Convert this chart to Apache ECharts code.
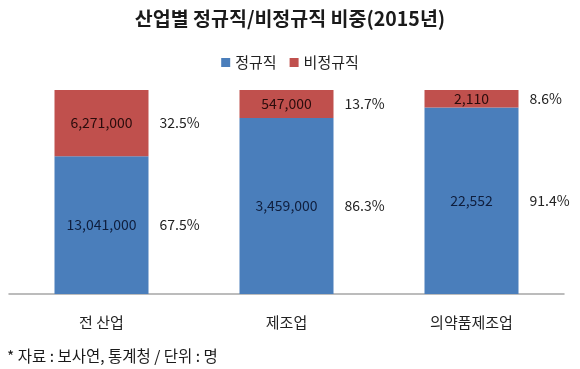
<!DOCTYPE html>
<html><head><meta charset="utf-8">
<script src="https://cdn.jsdelivr.net/npm/echarts@6/dist/echarts.min.js"></script>
<style>html,body{margin:0;padding:0;background:#fff}#c{width:580px;height:369px}</style>
</head><body><div id="c"></div>
<script>
const categories = ['전 산업', '제조업', '의약품제조업'];
const regularCount = ['13,041,000', '3,459,000', '22,552'];
const irregularCount = ['6,271,000', '547,000', '2,110'];
const regularPct = [67.5, 86.3, 91.4];
const irregularPct = [32.5, 13.7, 8.6];

const FONT = '"Noto Sans CJK KR", "Noto Sans", sans-serif';
const BW = 94;
const chart = echarts.init(document.getElementById('c'));
chart.setOption({
  animation: false,
  textStyle: { fontFamily: FONT },
  title: [
    { text: '산업별 정규직/비정규직 비중(2015년)', left: 'center', top: 4,
      textStyle: { fontFamily: FONT, fontSize: 19.5, fontWeight: 'bold', color: '#1a1a1a' } },
    { text: '* 자료 : 보사연, 통계청 / 단위 : 명', left: 2, top: 343,
      textStyle: { fontFamily: FONT, fontSize: 15.5, fontWeight: 'normal', color: '#1a1a1a' } }
  ],
  legend: {
    data: ['정규직', '비정규직'], top: 50, left: 'center', icon: 'rect',
    itemWidth: 9, itemHeight: 9, itemGap: 13,
    textStyle: { fontFamily: FONT, fontSize: 15, color: '#222' }
  },
  grid: { left: 9, right: 16, top: 90, bottom: 75 },
  xAxis: {
    type: 'category', data: categories,
    axisLine: { lineStyle: { color: '#a6a6a6', width: 1.5 } },
    axisTick: { show: false },
    axisLabel: { fontFamily: FONT, fontSize: 15, color: '#222', margin: 21 }
  },
  yAxis: { type: 'value', min: 0, max: 100, show: false, splitLine: { show: false } },
  series: [
    { name: '정규직', type: 'bar', stack: 'a', barWidth: BW, barGap: '-100%', data: regularPct,
      itemStyle: { color: '#4a7ebb' },
      label: { show: true, position: 'inside', fontFamily: FONT, fontSize: 14, color: '#0f1e3d',
        formatter: p => regularCount[p.dataIndex] } },
    { name: '비정규직', type: 'bar', stack: 'a', barWidth: BW, barGap: '-100%', data: irregularPct,
      itemStyle: { color: '#c0504d' },
      label: { show: true, position: 'inside', fontFamily: FONT, fontSize: 14, color: '#2a0c0c',
        formatter: p => irregularCount[p.dataIndex] } },
    { name: 'p1', type: 'bar', stack: 'b', barWidth: BW, barGap: '-100%', data: regularPct,
      itemStyle: { color: 'rgba(0,0,0,0)' }, silent: true,
      label: { show: true, position: 'right', distance: 11, fontFamily: FONT, fontSize: 14, color: '#222',
        formatter: p => p.value.toFixed(1) + '%' } },
    { name: 'p2', type: 'bar', stack: 'b', barWidth: BW, barGap: '-100%', data: irregularPct,
      itemStyle: { color: 'rgba(0,0,0,0)' }, silent: true,
      label: { show: true, position: 'right', distance: 11, fontFamily: FONT, fontSize: 14, color: '#222',
        formatter: p => p.value.toFixed(1) + '%' } }
  ]
});
</script></body></html>
